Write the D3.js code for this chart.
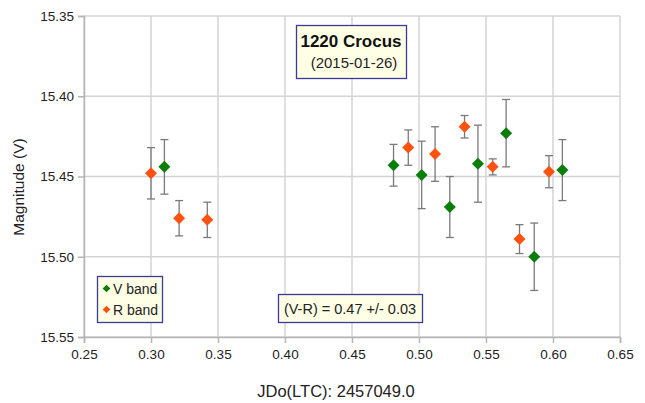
<!DOCTYPE html>
<html>
<head>
<meta charset="utf-8">
<script src="https://cdn.jsdelivr.net/npm/d3@7"></script>
<style>
  html, body { margin: 0; padding: 0; background: #fff; }
  svg { display: block; font-family: "Liberation Sans", Arial, sans-serif; }
</style>
</head>
<body>
<svg id="chart" width="645" height="403"></svg>
<script>
// Observation times (JD offset) and magnitudes with 1-sigma errors
const vTimes = [0.310, 0.481, 0.502, 0.523, 0.544, 0.565, 0.586, 0.607];
const vMags  = [15.444, 15.443, 15.449, 15.469, 15.442, 15.423, 15.500, 15.446];
const vErrs  = [0.017, 0.013, 0.021, 0.019, 0.024, 0.021, 0.021, 0.019];

const rTimes = [0.300, 0.321, 0.342, 0.492, 0.512, 0.534, 0.555, 0.575, 0.597];
const rMags  = [15.448, 15.476, 15.477, 15.432, 15.436, 15.419, 15.444, 15.489, 15.447];
const rErrs  = [0.016, 0.011, 0.011, 0.011, 0.017, 0.007, 0.005, 0.009, 0.010];

const xTicks = [0.25, 0.30, 0.35, 0.40, 0.45, 0.50, 0.55, 0.60, 0.65];
const yTicks = [15.35, 15.40, 15.45, 15.50, 15.55];

const titleText = "1220 Crocus";
const dateText = "(2015-01-26)";
const colorText = "(V-R) = 0.47 +/- 0.03";
const seriesNames = ["V band", "R band"];

const svg = d3.select("#chart");
const plotL = 84, plotR = 620, plotT = 16, plotB = 337;

const x = d3.scaleLinear().domain([0.25, 0.65]).range([plotL, plotR]);
const y = d3.scaleLinear().domain([15.35, 15.55]).range([plotT, plotB]);

const green = "#0b7d0b", orange = "#ff5210";

// grid
svg.append("g").selectAll("line").data(xTicks).join("line")
  .attr("x1", d => x(d)).attr("x2", d => x(d))
  .attr("y1", plotT).attr("y2", plotB)
  .attr("stroke", "#d4d4d4").attr("stroke-width", 1.5);
svg.append("g").selectAll("line").data(yTicks).join("line")
  .attr("x1", plotL).attr("x2", plotR)
  .attr("y1", d => y(d)).attr("y2", d => y(d))
  .attr("stroke", "#d4d4d4").attr("stroke-width", 1.5);

// axes
const xAxis = d3.axisBottom(x).tickValues(xTicks).tickFormat(d3.format(".2f")).tickSizeOuter(0).tickSize(6).tickPadding(6);
const yAxis = d3.axisLeft(y).tickValues(yTicks).tickFormat(d3.format(".2f")).tickSizeOuter(0).tickSize(6).tickPadding(4);

const gx = svg.append("g").attr("transform", `translate(0,${plotB})`).call(xAxis);
const gy = svg.append("g").attr("transform", `translate(${plotL},0)`).call(yAxis);
[gx, gy].forEach(g => {
  g.select(".domain").attr("stroke", "#b5b5b5").attr("stroke-width", 1.5);
  g.selectAll(".tick line").attr("stroke", "#b5b5b5").attr("stroke-width", 1.5);
  g.selectAll(".tick text").attr("fill", "#222").style("font-size", "13.5px")
    .style("font-family", "'Liberation Sans', Arial, sans-serif");
});

// axis titles
svg.append("text").attr("x", 336).attr("y", 397).attr("text-anchor", "middle")
  .attr("fill", "#222").style("font-size", "16.5px").text("JDo(LTC): 2457049.0");
svg.append("text").attr("transform", `translate(24,187) rotate(-90)`)
  .attr("text-anchor", "middle").attr("fill", "#222").style("font-size", "15.5px").text("Magnitude (V)");

// error bars + markers
const diamond = d3.symbol().type(d3.symbolSquare).size(72);
function drawSeries(times, mags, errs, color) {
  const data = times.map((t, i) => ({ t, m: mags[i], e: errs[i] }));
  const g = svg.append("g");
  const eb = g.selectAll("g.err").data(data).join("g").attr("class", "err")
    .attr("stroke", "#7a7a7a").attr("stroke-width", 1.3);
  eb.append("line").attr("x1", d => x(d.t)).attr("x2", d => x(d.t))
    .attr("y1", d => y(d.m - d.e)).attr("y2", d => y(d.m + d.e));
  eb.append("line").attr("x1", d => x(d.t) - 4).attr("x2", d => x(d.t) + 4)
    .attr("y1", d => y(d.m - d.e)).attr("y2", d => y(d.m - d.e));
  eb.append("line").attr("x1", d => x(d.t) - 4).attr("x2", d => x(d.t) + 4)
    .attr("y1", d => y(d.m + d.e)).attr("y2", d => y(d.m + d.e));
  g.selectAll("path").data(data).join("path")
    .attr("d", diamond)
    .attr("transform", d => `translate(${x(d.t)},${y(d.m)}) rotate(45)`)
    .attr("fill", color);
}
drawSeries(vTimes, vMags, vErrs, green);
drawSeries(rTimes, rMags, rErrs, orange);

// title box
svg.append("rect").attr("x", 296.5).attr("y", 25.5).attr("width", 110).attr("height", 53)
  .attr("fill", "#ffffe6").attr("stroke", "#3a3a9a").attr("stroke-width", 1.3);
svg.append("text").attr("x", 351).attr("y", 47).attr("text-anchor", "middle")
  .attr("fill", "#111").style("font-size", "17px").style("font-weight", "bold").text(titleText);
svg.append("text").attr("x", 354).attr("y", 68).attr("text-anchor", "middle")
  .attr("fill", "#222").style("font-size", "15px").text(dateText);

// color index box
svg.append("rect").attr("x", 278.5).attr("y", 294.5).attr("width", 144).attr("height", 28)
  .attr("fill", "#ffffe6").attr("stroke", "#3a3a9a").attr("stroke-width", 1.3);
svg.append("text").attr("x", 350).attr("y", 313.5).attr("text-anchor", "middle")
  .attr("fill", "#222").style("font-size", "14.5px").text(colorText);

// legend
svg.append("rect").attr("x", 97.5).attr("y", 276.5).attr("width", 65).attr("height", 46)
  .attr("fill", "#ffffe6").attr("stroke", "#3a3a9a").attr("stroke-width", 1.3);
const legendSym = d3.symbol().type(d3.symbolSquare).size(30);
[green, orange].forEach((c, i) => {
  const ly = 288.5 + i * 21;
  svg.append("path").attr("d", legendSym)
    .attr("transform", `translate(106.5,${ly}) rotate(45)`).attr("fill", c);
  svg.append("text").attr("x", 113).attr("y", ly + 5)
    .attr("fill", "#222").style("font-size", "14px").text(seriesNames[i]);
});
</script>
</body>
</html>
